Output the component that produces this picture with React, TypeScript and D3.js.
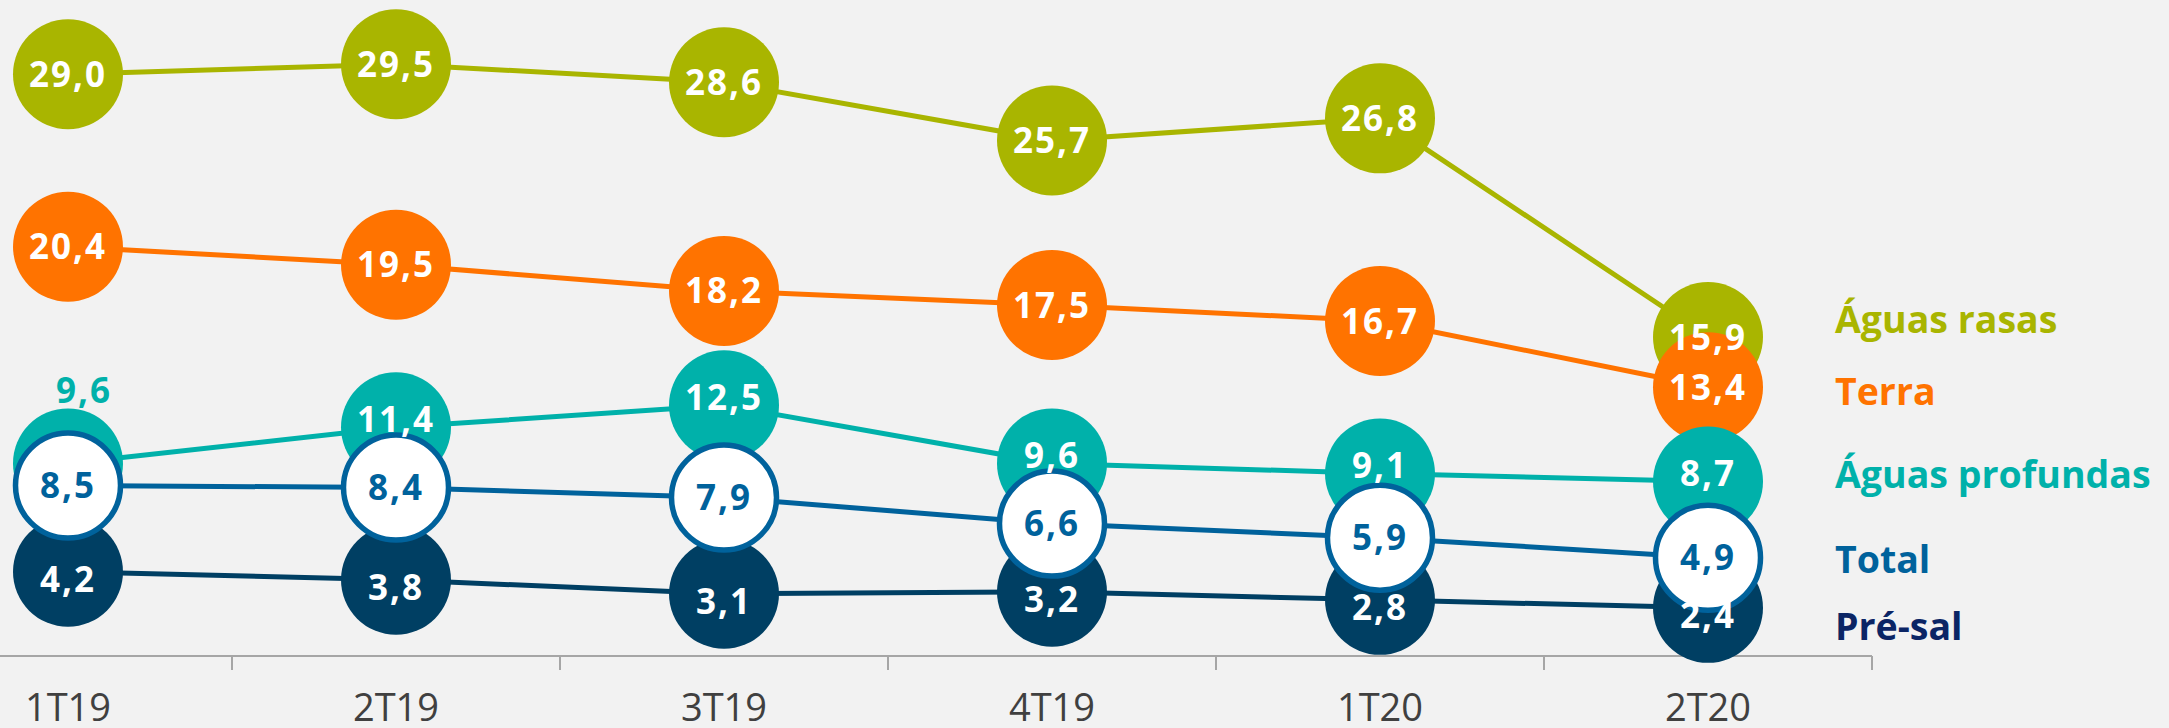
import React, { useEffect, useRef } from "react";
import * as d3 from "d3";

const categories = ["1T19", "2T19", "3T19", "4T19", "1T20", "2T20"];

const aguasRasas = [29.0, 29.5, 28.6, 25.7, 26.8, 15.9];
const terra = [20.4, 19.5, 18.2, 17.5, 16.7, 13.4];
const aguasProfundas = [9.6, 11.4, 12.5, 9.6, 9.1, 8.7];
const total = [8.5, 8.4, 7.9, 6.6, 5.9, 4.9];
const preSal = [4.2, 3.8, 3.1, 3.2, 2.8, 2.4];

const seriesNames = ["Águas rasas", "Terra", "Águas profundas", "Pré-sal", "Total"];

const W = 2169;
const H = 728;
const FONT = "'Open Sans', 'Noto Sans', sans-serif";

const fmt = (v: number) => v.toFixed(1).replace(".", ",");

const App = () => {
  const ref = useRef<SVGSVGElement>(null);

  useEffect(() => {
    const svg = d3.select(ref.current);
    svg.selectAll("*").remove();

    const axisY = 656;

    const x = d3.scaleBand<string>().domain(categories).range([-96, 1872]).padding(0);
    const cx = (c: string) => (x(c) as number) + x.bandwidth() / 2;
    const y = d3.scaleLinear().domain([0, 32.7]).range([axisY, 0]);

    // drawing order = layering order (last on top)
    const series = [
      { name: "Águas rasas", values: aguasRasas, color: "#a9b500", legend: "#a9b500", hollow: false, labelDy: 0, legendY: 319 },
      { name: "Terra", values: terra, color: "#ff7300", legend: "#ff7300", hollow: false, labelDy: 0, legendY: 391 },
      { name: "Águas profundas", values: aguasProfundas, color: "#00b1aa", legend: "#00b1aa", hollow: false, labelDy: -8, legendY: 474 },
      { name: "Pré-sal", values: preSal, color: "#003f63", legend: "#0b2565", hollow: false, labelDy: 8, legendY: 626 },
      { name: "Total", values: total, color: "#00629c", legend: "#00629c", hollow: true, labelDy: 0, legendY: 559 },
    ];

    svg.append("rect").attr("width", W).attr("height", H).attr("fill", "#f2f2f2");

    // axis
    const ax = svg.append("g");
    ax.append("line")
      .attr("x1", 0).attr("x2", 1872)
      .attr("y1", axisY).attr("y2", axisY)
      .attr("stroke", "#a6a6a6").attr("stroke-width", 2);
    ax.selectAll("line.tick")
      .data(categories)
      .join("line")
      .attr("class", "tick")
      .attr("x1", (d) => (x(d) as number) + x.bandwidth())
      .attr("x2", (d) => (x(d) as number) + x.bandwidth())
      .attr("y1", axisY).attr("y2", axisY + 14)
      .attr("stroke", "#a6a6a6").attr("stroke-width", 2);
    ax.selectAll("text")
      .data(categories)
      .join("text")
      .attr("x", (d) => cx(d))
      .attr("y", 721)
      .attr("text-anchor", "middle")
      .attr("font-family", FONT)
      .attr("font-size", 38)
      .attr("fill", "#404040")
      .text((d) => d);

    const line = d3.line<number>()
      .x((_, i) => cx(categories[i]))
      .y((d) => y(d));

    // lines first
    series.forEach((s) => {
      svg.append("path")
        .datum(s.values)
        .attr("d", line)
        .attr("fill", "none")
        .attr("stroke", s.color)
        .attr("stroke-width", 5);
    });

    // markers
    series.forEach((s) => {
      svg.append("g")
        .selectAll("circle")
        .data(s.values)
        .join("circle")
        .attr("cx", (_, i) => cx(categories[i]))
        .attr("cy", (d) => y(d))
        .attr("r", s.hollow ? 52.5 : 55)
        .attr("fill", s.hollow ? "#ffffff" : s.color)
        .attr("stroke", s.hollow ? s.color : "none")
        .attr("stroke-width", s.hollow ? 5.5 : 0);
    });

    // value labels (1T19 Águas profundas sits above its marker, hidden by Total)
    const above = (s: { name: string }, i: number) => s.name === "Águas profundas" && i === 0;
    series.forEach((s) => {
      svg.append("g")
        .selectAll("text")
        .data(s.values)
        .join("text")
        .attr("x", (_, i) => cx(categories[i]) + (above(s, i) ? 16 : 0))
        .attr("y", (d, i) => (above(s, i) ? y(d) - 73 : y(d) + s.labelDy))
        .attr("dy", "0.36em")
        .attr("text-anchor", "middle")
        .attr("font-family", FONT)
        .attr("font-weight", 700)
        .attr("font-size", 35)
        .attr("letter-spacing", 2)
        .attr("fill", (_, i) => (s.hollow || above(s, i) ? s.color : "#ffffff"))
        .text((d) => fmt(d));
    });

    // legend
    svg.append("g")
      .selectAll("text")
      .data(series)
      .join("text")
      .attr("x", 1835)
      .attr("y", (d) => d.legendY)
      .attr("dy", "0.36em")
      .attr("font-family", FONT)
      .attr("font-weight", 700)
      .attr("font-size", 37.5)
      .attr("fill", (d) => d.legend)
      .text((d) => d.name);
  }, []);

  return (
    <svg
      ref={ref}
      width={W}
      height={H}
      style={{ position: "absolute", left: 0, top: 0, display: "block" }}
      aria-label={seriesNames.join(", ")}
    />
  );
};

export default App;
